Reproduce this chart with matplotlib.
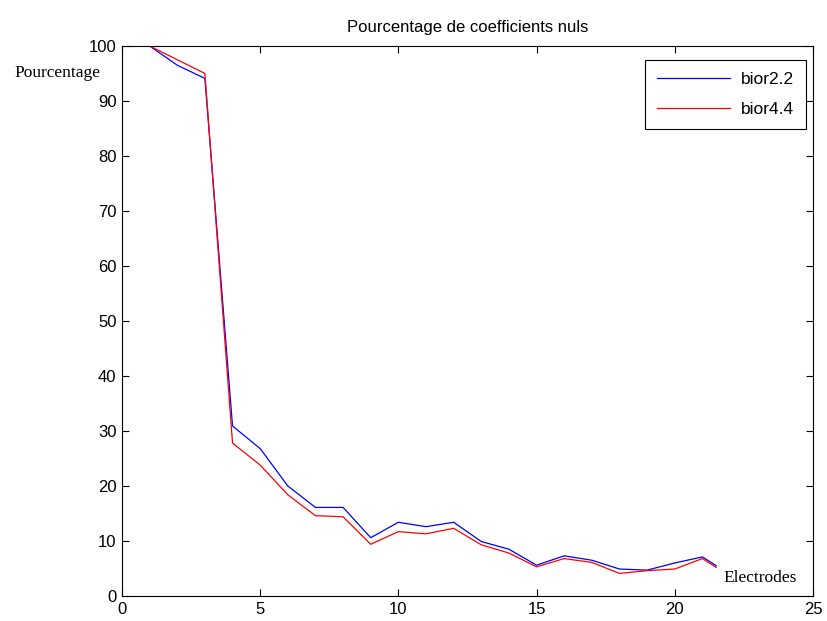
import matplotlib.pyplot as plt

# Electrode index and percentage of zero coefficients per wavelet
electrodes = [1, 2, 3, 4, 5, 6, 7, 8, 9, 10, 11, 12, 13, 14, 15, 16, 17, 18, 19, 20, 21, 21.5]
bior22 = [100, 96.5, 94.1, 30.9, 26.8, 20.0, 16.1, 16.1, 10.6, 13.4, 12.6, 13.4,
          9.9, 8.5, 5.6, 7.3, 6.5, 4.9, 4.7, 6.0, 7.1, 5.5]
bior44 = [100, 97.5, 95.0, 27.8, 23.8, 18.4, 14.6, 14.4, 9.4, 11.7, 11.3, 12.3,
          9.3, 7.8, 5.3, 6.8, 6.1, 4.1, 4.6, 4.9, 6.8, 5.2]

plt.rcParams['font.family'] = ['Liberation Sans', 'DejaVu Sans']

fig = plt.figure(figsize=(8.27, 6.21), dpi=100)
ax = fig.add_axes([0.1475, 0.0403, 0.8355, 0.8857])

ax.plot(electrodes, bior22, color='#0000ff', lw=0.9, label='bior2.2')
ax.plot(electrodes, bior44, color='#ff0000', lw=0.9, label='bior4.4')

ax.set_xlim(0, 25)
ax.set_ylim(0, 100)
ax.set_xticks(range(0, 26, 5))
ax.set_yticks(range(0, 101, 10))
ax.tick_params(direction='in', top=True, right=True, labelsize=12, length=5, width=0.8, pad=4)
for s in ax.spines.values():
    s.set_linewidth(0.8)

ax.set_title('Pourcentage de coefficients nuls', fontsize=12, pad=10)

# MATLAB-style axis labels drawn as free text
ax.text(-2.35, 95.1, 'Pourcentage', family='Liberation Serif', fontsize=12.5,
        ha='center', va='center', clip_on=False)
ax.text(23.1, 3.3, 'Electrodes', family='Liberation Serif', fontsize=12.5,
        ha='center', va='center', clip_on=False)

leg = ax.legend(loc='upper right', bbox_to_anchor=(0.99, 0.975), fancybox=False,
                framealpha=1, edgecolor='black', fontsize=12.5, handlelength=4.2,
                borderaxespad=0, borderpad=0.7, labelspacing=0.85, handletextpad=0.6)
leg.get_frame().set_linewidth(0.8)

fig.savefig('out.png', dpi=100)
